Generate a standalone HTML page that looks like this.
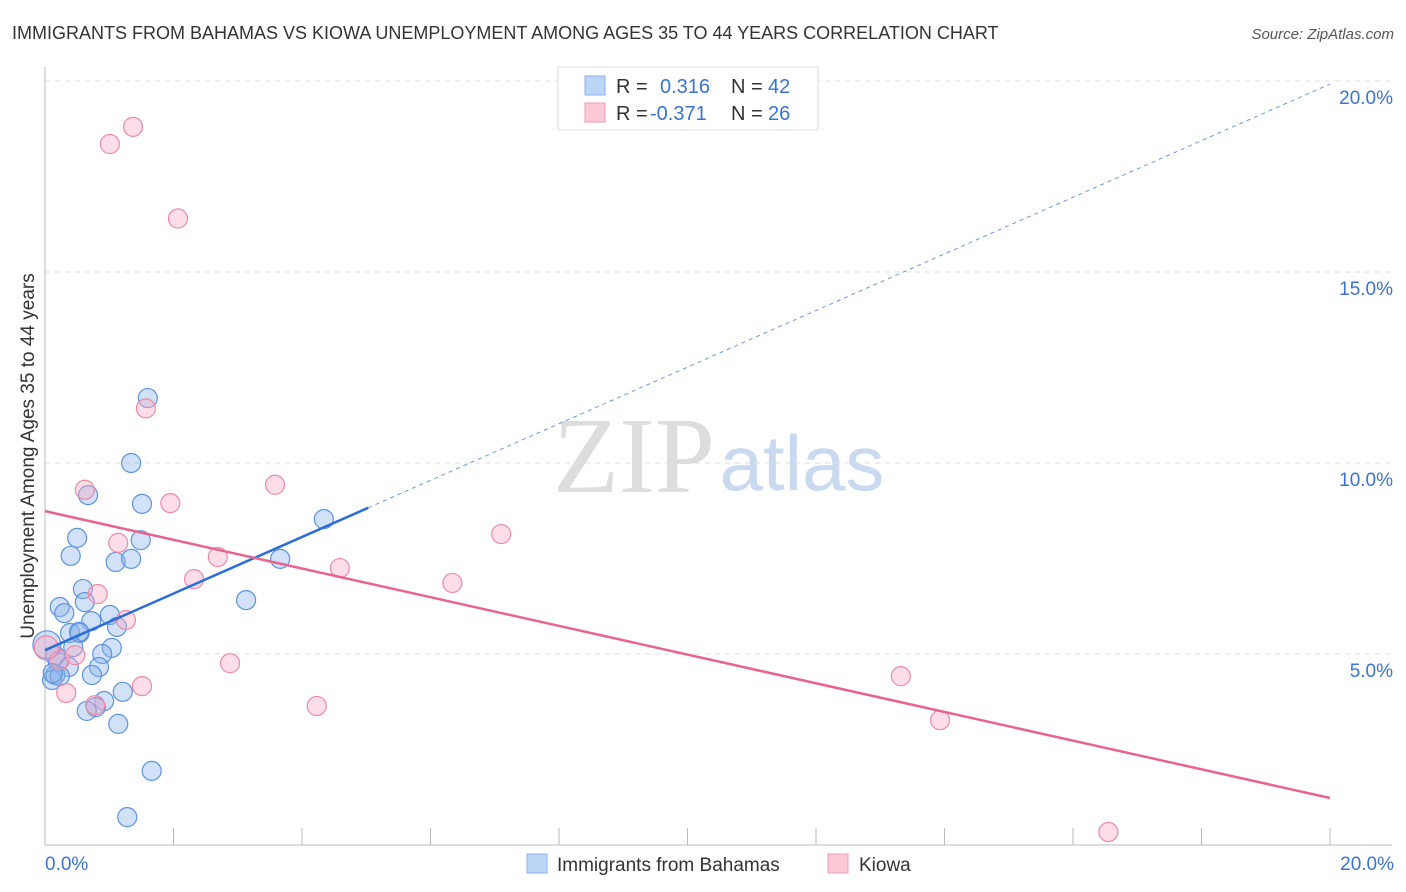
<!DOCTYPE html>
<html><head><meta charset="utf-8"><style>
body{margin:0;background:#fff;font-family:"Liberation Sans",sans-serif;}
svg{display:block}
</style></head><body>
<svg id="c" width="1406" height="892" xmlns="http://www.w3.org/2000/svg">
<text x="12" y="39" font-size="18" fill="#333">IMMIGRANTS FROM BAHAMAS VS KIOWA UNEMPLOYMENT AMONG AGES 35 TO 44 YEARS CORRELATION CHART</text>
<text x="1394" y="39" font-size="15" fill="#555" font-style="italic" text-anchor="end">Source: ZipAtlas.com</text>
<text x="634" y="492" font-size="108" fill="#ddd" font-family="Liberation Serif" text-anchor="middle">ZIP</text>
<text x="802" y="490" font-size="78" fill="#c9daf0" text-anchor="middle">atlas</text>
<text transform="translate(34,456) rotate(-90)" font-size="19" fill="#333" text-anchor="middle">Unemployment Among Ages 35 to 44 years</text>
<g id="grid"></g><g id="pts"></g><g id="lines"></g>
<g>
<rect x="558" y="67" width="260" height="63" fill="#fff" stroke="#ddd"/>
<rect x="585" y="76" width="20" height="19" fill="#bcd4f5" stroke="#8ab2ea"/>
<rect x="585" y="103" width="20" height="19" fill="#fcc9d7" stroke="#f19ab4"/>
<text x="616" y="93" font-size="20" fill="#333">R = </text><text x="660" y="93" font-size="20" fill="#3a73d0">0.316</text>
<text x="731" y="93" font-size="20" fill="#333">N = </text><text x="768" y="93" font-size="20" fill="#3a73d0">42</text>
<text x="616" y="120" font-size="20" fill="#333">R = </text><text x="650" y="120" font-size="20" fill="#3a73d0">-0.371</text>
<text x="731" y="120" font-size="20" fill="#333">N = </text><text x="768" y="120" font-size="20" fill="#3a73d0">26</text>
</g>
<g>
<rect x="527" y="854" width="20" height="19" fill="#bcd4f5" stroke="#8ab2ea"/>
<text x="557" y="871" font-size="19" fill="#333">Immigrants from Bahamas</text>
<rect x="828" y="854" width="20" height="19" fill="#fcc9d7" stroke="#f19ab4"/>
<text x="859" y="871" font-size="19" fill="#333">Kiowa</text>
</g>
</svg>
<script>
const xTicks=[0,20];
const yTicks=[5,10,15,20];
const blueX=[1.6,1.34,0.67,1.51,4.34,1.49,0.5,0.4,1.1,1.34,3.66,0.59,0.62,3.13,0.23,0.3,1.01,0.72,1.12,0.39,0.54,0.53,1.04,0.89,0.44,0.16,0.2,0.37,0.84,0.73,0.16,0.11,0.23,1.21,0.92,0.79,0.65,1.14,1.66,1.28,0.03,0.12];
const blueY=[11.7,10.0,9.16,8.93,8.53,7.98,8.04,7.57,7.41,7.49,7.49,6.7,6.36,6.41,6.23,6.07,6.02,5.86,5.71,5.55,5.55,5.58,5.16,5.0,5.18,4.95,4.79,4.66,4.66,4.45,4.45,4.32,4.42,4.01,3.77,3.61,3.51,3.17,1.94,0.73,5.24,4.5];
const pinkX=[1.37,1.01,2.07,1.57,0.62,1.95,3.58,1.14,2.69,4.59,7.1,6.34,2.32,0.82,1.26,2.88,13.32,1.51,0.33,0.78,4.23,13.93,16.55,0.23,0.47,0.02];
const pinkY=[18.8,18.35,16.4,11.43,9.3,8.95,9.43,7.91,7.54,7.25,8.14,6.86,6.96,6.57,5.89,4.76,4.42,4.16,3.98,3.66,3.64,3.27,0.34,4.84,4.97,5.16];
const blueLine=[[0,5.1],[20,19.92]], blueSolidEnd=5.03;
const pinkLine=[[0,8.74],[20,1.23]];
const X=v=>45+v*64.25, Y=v=>845-v*38.2;
const NS="http://www.w3.org/2000/svg";
function mk(t,a,p){const e=document.createElementNS(NS,t);for(const k in a)e.setAttribute(k,a[k]);p.appendChild(e);return e;}
const g=document.getElementById('grid');
yTicks.forEach(t=>{
 const l=mk('line',{x1:45,x2:1392,y1:Y(t),y2:Y(t),stroke:'#ddd','stroke-dasharray':'5,5'},g);
 
 
 const tx=mk('text',{x:1393,y:Y(t)+23,'font-size':19,fill:'#3a73d0','text-anchor':'end'},g);tx.textContent=t.toFixed(1)+'%';
 
 
});
mk('line',{x1:45,x2:45,y1:67,y2:845,stroke:'#bbb'},g);
mk('line',{x1:45,x2:1392,y1:845,y2:845,stroke:'#bbb'},g);
for(let i=1;i<=10;i++){mk('line',{x1:X(i*2),x2:X(i*2),y1:828,y2:845,stroke:'#bbb'},g);}
xTicks.forEach((t,i)=>{
 const tx=mk('text',{x:i?1394:45,y:870,'font-size':19,fill:'#3a73d0','text-anchor':i?'end':'start'},g);tx.textContent=t.toFixed(1)+'%';
 
 
});
const p=document.getElementById('pts');
blueX.forEach((v,i)=>{const c=mk('circle',{cx:X(v),cy:Y(blueY[i]),r:(i==40?14:9.5),fill:'rgba(140,180,235,0.4)',stroke:'#5d93e0','stroke-width':1.2},p);
 
 });
pinkX.forEach((v,i)=>{const c=mk('circle',{cx:X(v),cy:Y(pinkY[i]),r:(i==25?12:9.5),fill:'rgba(250,170,195,0.4)',stroke:'#ee8aaa','stroke-width':1.2},p);
 
 });
const L=document.getElementById('lines');
const by=x=>blueLine[0][1]+(blueLine[1][1]-blueLine[0][1])*(x-blueLine[0][0])/(blueLine[1][0]-blueLine[0][0]);
let e=mk('line',{x1:X(blueSolidEnd),y1:Y(by(blueSolidEnd)),x2:X(20),y2:Y(by(20)),stroke:'#6a98dc','stroke-width':1,'stroke-dasharray':'4,4'},L);


e=mk('line',{x1:X(0),y1:Y(by(0)),x2:X(blueSolidEnd),y2:Y(by(blueSolidEnd)),stroke:'#2a6dd6','stroke-width':2.5},L);


e=mk('line',{x1:X(pinkLine[0][0]),y1:Y(pinkLine[0][1]),x2:X(pinkLine[1][0]),y2:Y(pinkLine[1][1]),stroke:'#e8648f','stroke-width':2.5},L);


</script>
</body></html>
